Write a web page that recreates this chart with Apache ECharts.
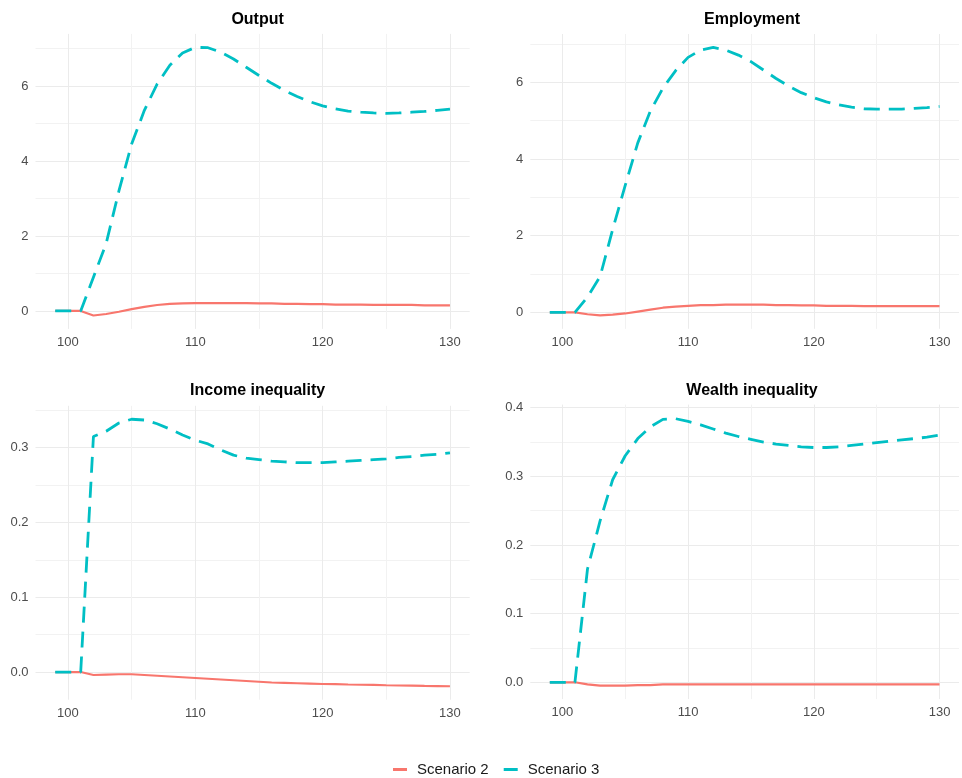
<!DOCTYPE html>
<html>
<head>
<meta charset="utf-8">
<script src="https://cdn.jsdelivr.net/npm/echarts@6/dist/echarts.min.js"></script>
<style>
  html, body { margin: 0; padding: 0; background: #fff; }
  #main { width: 962px; height: 778px; }
</style>
</head>
<body>
<div id="main"></div>
<script>
var years = [99, 100, 101, 102, 103, 104, 105, 106, 107, 108, 109, 110, 111, 112, 113, 114,
  115, 116, 117, 118, 119, 120, 121, 122, 123, 124, 125, 126, 127, 128, 129, 130];

var panelTitles = ['Output', 'Employment', 'Income inequality', 'Wealth inequality'];
var seriesNames = ['Scenario 2', 'Scenario 3'];

var output2 = [0, 0, 0, -0.12, -0.08, -0.02, 0.05, 0.11, 0.16, 0.19, 0.2, 0.21, 0.21, 0.21, 0.21, 0.21,
  0.2, 0.2, 0.19, 0.19, 0.18, 0.18, 0.17, 0.17, 0.17, 0.16, 0.16, 0.16, 0.16, 0.15, 0.15, 0.15];
var output3 = [0, 0, 0, 0.9, 1.8, 3.2, 4.45, 5.35, 6.05, 6.55, 6.88, 7.03, 7.02, 6.9, 6.72, 6.5,
  6.28, 6.07, 5.88, 5.72, 5.58, 5.47, 5.39, 5.33, 5.3, 5.28, 5.27, 5.28, 5.3, 5.32, 5.35, 5.38];

var employment2 = [0, 0, 0, -0.05, -0.08, -0.06, -0.03, 0.02, 0.07, 0.12, 0.15, 0.17, 0.19, 0.19, 0.2, 0.2,
  0.2, 0.2, 0.19, 0.19, 0.18, 0.18, 0.17, 0.17, 0.17, 0.16, 0.16, 0.16, 0.16, 0.16, 0.16, 0.16];
var employment3 = [0, 0, 0, 0.4, 0.93, 2.16, 3.31, 4.42, 5.25, 5.85, 6.3, 6.65, 6.84, 6.91, 6.84, 6.71,
  6.54, 6.32, 6.1, 5.9, 5.73, 5.6, 5.49, 5.41, 5.35, 5.31, 5.3, 5.3, 5.3, 5.32, 5.34, 5.37];

var income2 = [0, 0, 0, -0.004, -0.0035, -0.003, -0.003, -0.004, -0.005, -0.006, -0.007, -0.008, -0.009, -0.01, -0.011, -0.012,
  -0.013, -0.014, -0.0145, -0.015, -0.0155, -0.016, -0.0163, -0.0167, -0.017, -0.0173, -0.0177, -0.018, -0.0183, -0.0186, -0.0188, -0.019];
var income3 = [0, 0, 0, 0.315, 0.322, 0.333, 0.338, 0.337, 0.332, 0.325, 0.317, 0.31, 0.305, 0.297, 0.29, 0.286,
  0.284, 0.282, 0.281, 0.28, 0.28, 0.28, 0.281, 0.282, 0.283, 0.284, 0.285, 0.287, 0.288, 0.29, 0.291, 0.293];

var wealth2 = [0, 0, 0, -0.003, -0.005, -0.005, -0.005, -0.004, -0.004, -0.003, -0.003, -0.003, -0.003, -0.003, -0.003, -0.003,
  -0.003, -0.003, -0.003, -0.003, -0.003, -0.003, -0.003, -0.003, -0.003, -0.003, -0.003, -0.003, -0.003, -0.003, -0.003, -0.003];
var wealth3 = [0, 0, 0, 0.165, 0.235, 0.295, 0.33, 0.355, 0.372, 0.383, 0.384, 0.38, 0.375, 0.369, 0.363, 0.358,
  0.354, 0.35, 0.347, 0.345, 0.343, 0.342, 0.342, 0.343, 0.345, 0.347, 0.349, 0.351, 0.353, 0.355, 0.357, 0.36];

var panelData = [
  [output2, output3],
  [employment2, employment3],
  [income2, income3],
  [wealth2, wealth3]
];

// y ranges and tick steps per panel (ggplot-style padding)
var yRanges = [[-0.478, 7.388], [-0.43, 7.26], [-0.037, 0.356], [-0.0245, 0.4045]];
var ySteps = [2, 2, 0.1, 0.1];

var grids = [
  { left: 35.5, top: 33.9, width: 434.2, height: 295 },
  { left: 530.3, top: 34, width: 433.4, height: 294.8 },
  { left: 35.5, top: 405.8, width: 434.2, height: 293.9 },
  { left: 530.3, top: 404.6, width: 433.4, height: 294.5 }
];

var colors = ['#F8766D', '#00BFC4'];
var font = 'Liberation Sans, Arial, sans-serif';
var gridColor = '#ebebeb';

function pairs(arr) {
  return years.map(function (y, i) { return [y, arr[i]]; });
}

var xAxes = [], yAxes = [], series = [], titles = [];

grids.forEach(function (g, k) {
  titles.push({
    text: panelTitles[k],
    left: g.left + g.width / 2,
    top: k < 2 ? 7 : 378,
    textAlign: 'center',
    textStyle: { fontFamily: font, fontSize: 16, fontWeight: 'bold', color: '#000' }
  });
  xAxes.push({
    type: 'value',
    gridIndex: k,
    min: 97.45,
    max: 131.55,
    splitNumber: 3,
    minInterval: 10,
    maxInterval: 10,
    axisLine: { show: false },
    axisTick: { show: false },
    minorTick: { show: false, splitNumber: 2 },
    axisLabel: {
      margin: 7,
      fontFamily: font,
      fontSize: 13,
      color: '#4d4d4d',
      formatter: function (v) { return Math.abs(v % 10) < 1e-6 ? String(v) : ''; }
    },
    splitLine: { show: true, showMinLine: false, showMaxLine: false, lineStyle: { color: gridColor, width: 1 } },
    minorSplitLine: { show: true, lineStyle: { color: '#f2f2f2', width: 1 } }
  });
  var step = ySteps[k];
  yAxes.push({
    type: 'value',
    gridIndex: k,
    min: yRanges[k][0],
    max: yRanges[k][1],
    splitNumber: 4,
    minInterval: step,
    maxInterval: step,
    axisLine: { show: false },
    axisTick: { show: false },
    minorTick: { show: false, splitNumber: 2 },
    axisLabel: {
      margin: 7,
      fontFamily: font,
      fontSize: 13,
      color: '#4d4d4d',
      formatter: function (v) {
        var r = v / step;
        if (Math.abs(r - Math.round(r)) > 1e-6) return '';
        return step < 1 ? v.toFixed(1) : String(Math.round(v));
      }
    },
    splitLine: { show: true, showMinLine: false, showMaxLine: false, lineStyle: { color: gridColor, width: 1 } },
    minorSplitLine: { show: true, lineStyle: { color: '#f2f2f2', width: 1 } }
  });
  series.push({
    name: seriesNames[0],
    type: 'line',
    xAxisIndex: k,
    yAxisIndex: k,
    data: pairs(panelData[k][0]),
    showSymbol: false,
    smooth: false,
    color: colors[0],
    lineStyle: { color: colors[0], width: 2.2 }
  });
  series.push({
    name: seriesNames[1],
    type: 'line',
    xAxisIndex: k,
    yAxisIndex: k,
    data: pairs(panelData[k][1]),
    showSymbol: false,
    smooth: false,
    color: colors[1],
    lineStyle: { color: colors[1], width: 2.8, type: [16, 9], cap: 'butt' }
  });
});

var chart = echarts.init(document.getElementById('main'), null, { renderer: 'canvas' });
chart.setOption({
  backgroundColor: '#fff',
  animation: false,
  title: titles,
  legend: {
    data: seriesNames,
    left: 393,
    top: 762,
    padding: 0,
    icon: 'rect',
    itemWidth: 14,
    itemHeight: 3,
    itemGap: 15,
    textStyle: { fontFamily: font, fontSize: 15, color: '#1a1a1a', padding: [0, 0, 0, 5] }
  },
  grid: grids,
  xAxis: xAxes,
  yAxis: yAxes,
  series: series
});
</script>
</body>
</html>
